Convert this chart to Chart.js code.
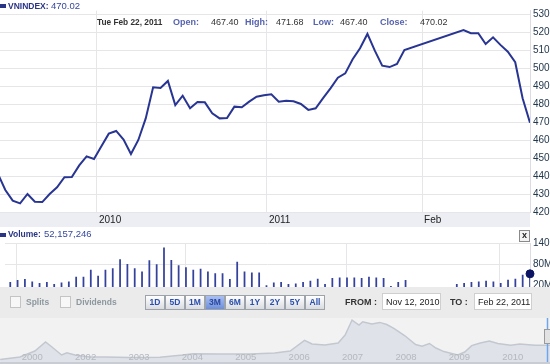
<!DOCTYPE html>
<html>
<head>
<meta charset="utf-8">
<script src="https://cdn.jsdelivr.net/npm/chart.js@4.4.0/dist/chart.umd.min.js"></script>
<style>
body{margin:0;width:550px;height:364px;overflow:hidden;background:#fff;position:relative;font-family:"Liberation Sans",Arial,sans-serif}
.a{position:absolute;white-space:nowrap}
.b{font-weight:bold}
.ico{position:absolute;width:6px;height:4px;background:#2a3585}
.lbl{color:#2a3585;font-size:8.5px}
.num{color:#3548a0;font-size:9.5px}
.hd{font-size:9px;color:#333}
.hk{color:#5663ae;font-weight:bold}
#ctrl{position:absolute;left:0;top:287px;width:550px;height:31px;background:#ebebeb}
.cb{position:absolute;width:9px;height:10px;background:#f7f7f7;border:1px solid #c4c4c4;top:9px}
.ct{position:absolute;top:10px;font-size:8.5px;font-weight:bold;color:#8c989f}
.btn{position:absolute;top:8px;width:18px;height:13px;border:1px solid #9da3ab;background:linear-gradient(#ffffff,#d9dbdf);font-size:8.5px;font-weight:bold;color:#2b4fae;text-align:center;line-height:13px}
.sel{background:linear-gradient(#a9bff0,#6e8fd9);color:#2a46a0}
.inp{position:absolute;top:6px;height:17px;background:#fff;border:1px solid #cfcfcf;font-size:9px;color:#222;line-height:17px;padding-left:3px;box-sizing:border-box}
</style>
</head>
<body>
<canvas id="price" class="a" style="left:0;top:0" width="550" height="227"></canvas>
<canvas id="vol" class="a" style="left:0;top:227px" width="550" height="72"></canvas>

<div class="ico" style="left:0;top:4px"></div>
<div class="a lbl b" style="left:8px;top:1px">VNINDEX:</div>
<div class="a num" style="left:51px;top:0px">470.02</div>

<div class="a hd b" style="left:97px;top:17px;font-size:8.3px">Tue Feb 22, 2011</div>
<div class="a hd hk" style="left:173px;top:17px">Open:</div>
<div class="a hd" style="left:211px;top:17px">467.40</div>
<div class="a hd hk" style="left:245px;top:17px">High:</div>
<div class="a hd" style="left:276px;top:17px">471.68</div>
<div class="a hd hk" style="left:313px;top:17px">Low:</div>
<div class="a hd" style="left:340px;top:17px">467.40</div>
<div class="a hd hk" style="left:380px;top:17px">Close:</div>
<div class="a hd" style="left:420px;top:17px">470.02</div>

<div class="ico" style="left:0;top:233px"></div>
<div class="a lbl b" style="left:8px;top:229px">Volume:</div>
<div class="a num" style="left:44px;top:228px">52,157,246</div>
<div class="a" style="left:519px;top:230px;width:9px;height:10px;border:1px solid #8a8a8a;background:#f3f3f3;font-size:9px;font-weight:bold;line-height:9px;text-align:center;color:#222">x</div>

<div id="ctrl">
  <div class="cb" style="left:10px"></div><div class="ct" style="left:26px">Splits</div>
  <div class="cb" style="left:60px"></div><div class="ct" style="left:76px">Dividends</div>
  <div class="btn" style="left:145px">1D</div>
  <div class="btn" style="left:165px">5D</div>
  <div class="btn" style="left:185px">1M</div>
  <div class="btn sel" style="left:205px">3M</div>
  <div class="btn" style="left:225px">6M</div>
  <div class="btn" style="left:245px">1Y</div>
  <div class="btn" style="left:265px">2Y</div>
  <div class="btn" style="left:285px">5Y</div>
  <div class="btn" style="left:305px">All</div>
  <div class="a b" style="left:345px;top:10px;font-size:9px;color:#333">FROM :</div>
  <div class="inp" style="left:382px;width:59px">Nov 12, 2010</div>
  <div class="a b" style="left:450px;top:10px;font-size:9px;color:#333">TO :</div>
  <div class="inp" style="left:474px;width:58px">Feb 22, 2011</div>
</div>
<canvas id="nav" class="a" style="left:0;top:318px;background:#f2f2f3" width="550" height="44"></canvas>
<div class="a" style="left:0;top:362px;width:550px;height:2px;background:#c9cdd3"></div>

<script>
// trading days shown (Tet holiday days kept with no price)
const dates = [
  '2010-11-12','2010-11-15','2010-11-16','2010-11-17','2010-11-18','2010-11-19','2010-11-22','2010-11-23','2010-11-24','2010-11-25','2010-11-26','2010-11-29','2010-11-30',
  '2010-12-01','2010-12-02','2010-12-03','2010-12-06','2010-12-07','2010-12-08','2010-12-09','2010-12-10','2010-12-13','2010-12-14','2010-12-15','2010-12-16','2010-12-17',
  '2010-12-20','2010-12-21','2010-12-22','2010-12-23','2010-12-24','2010-12-27','2010-12-28','2010-12-29','2010-12-30','2010-12-31',
  '2011-01-03','2011-01-04','2011-01-05','2011-01-06','2011-01-07','2011-01-10','2011-01-11','2011-01-12','2011-01-13','2011-01-14','2011-01-17','2011-01-18','2011-01-19',
  '2011-01-20','2011-01-21','2011-01-24','2011-01-25','2011-01-26','2011-01-27','2011-01-28','2011-01-31',
  '2011-02-01','2011-02-02','2011-02-03','2011-02-04','2011-02-07','2011-02-08','2011-02-09','2011-02-10','2011-02-11','2011-02-14','2011-02-15','2011-02-16','2011-02-17',
  '2011-02-18','2011-02-21','2011-02-22'
];
const close = [441.5,432.6,426.7,425.2,430.4,426.1,425.9,430.4,434.1,439.7,439.8,446.3,451.3,
  449.8,456.9,463.9,465.4,460.6,452.6,460.4,472.4,489.7,489.3,493.2,479.8,485.0,478.0,481.5,481.3,475.2,472.4,472.6,478.9,478.6,481.7,484.4,
  485.2,485.8,481.7,482.2,481.9,480.4,477.1,478.0,483.6,489.1,495.0,497.4,505.2,511.3,519.3,510.0,501.7,500.9,502.6,510.4,null,
  null,null,null,null,null,null,521.5,519.7,519.7,513.7,517.4,513.2,509.4,503.6,483.6,470.02];
// volume in millions
const volume = [30,27.5,33.2,36.0,29.2,24.6,27.5,21.7,26.3,29.2,42.6,42.6,62.7,
  45.5,62.7,67.6,93.3,79.9,67.6,57.8,90.5,79.0,127.7,91.3,76.2,70.4,62.7,65.6,57.8,53.2,53.2,36.0,86.5,57.8,55.0,55.0,
  18.0,26.3,27.5,21.7,23.5,27.5,31.2,36.9,21.7,38.9,40.6,40.6,40.6,38.9,42.6,40.6,38.9,16.0,27.5,33.2,null,
  null,null,null,null,null,21.7,24.6,27.5,29.2,31.2,29.2,24.6,34.0,36.9,48.4,52.157246];
const monthLabels = ['2010','2011','Feb'];
const priceTicks = [420,430,440,450,460,470,480,490,500,510,520,530];
const volTicks = [20,80,140];

// long-range navigator
const navYears = [2001,2002,2003,2004,2005,2006,2007,2008,2009,2010];
const navYearLabels = ['2000','2002','2003','2004','2005','2006','2007','2008','2009','2010'];
const navT = [2000.40,2000.77,2001.05,2001.25,2001.37,2001.55,2001.65,2001.80,2002.08,2002.37,2002.83,2003.39,2003.82,2004.01,2004.52,2005.08,
  2005.54,2005.83,2006.10,2006.24,2006.48,2006.73,2006.86,2006.99,2007.12,2007.19,2007.36,2007.51,2007.64,2007.78,2007.98,2008.18,2008.30,
  2008.44,2008.56,2008.71,2008.97,2009.10,2009.23,2009.39,2009.56,2009.72,2009.96,2010.13,2010.42,2010.70];
const navV = [213,272,417,636,515,320,376,320,272,274,259,264,320,352,344,344,
  369,417,675,587,563,612,806,1170,1049,1129,1073,1112,1061,959,787,573,532,
  600,490,403,320,393,549,612,660,600,556,587,556,556];

// gridline positions: first trading day of each new month
const monthIdx = [];
for (let i = 1; i < dates.length; i++) {
  if (dates[i].slice(0,7) !== dates[i-1].slice(0,7)) monthIdx.push(i + 0.4);
}
const xMin = 0.28, xMax = dates.length - 1;
const axisFont = {family:'Liberation Sans', size:10};

const bandPlugin = {
  id: 'band',
  beforeDraw(chart) {
    const {ctx, chartArea} = chart;
    ctx.save();
    ctx.fillStyle = '#eceef3';
    ctx.fillRect(0, chartArea.bottom, chartArea.right, chart.height - chartArea.bottom);
    ctx.restore();
  }
};

new Chart(document.getElementById('price'), {
  type: 'line',
  data: {
    datasets: [{
      data: close.map((v, i) => ({x: i, y: v})),
      borderColor: '#283593',
      borderWidth: 2,
      pointRadius: 0,
      spanGaps: true,
      tension: 0
    }]
  },
  options: {
    responsive: false, animation: false,
    layout: {padding: {top: 10.7}},
    plugins: {legend: {display: false}, tooltip: {enabled: false}},
    scales: {
      x: {
        type: 'linear', min: xMin, max: xMax,
        afterBuildTicks: s => { s.ticks = monthIdx.map(v => ({value: v})); },
        afterFit: s => { s.height = 14.3; },
        ticks: {align: 'start', labelOffset: 2, padding: 2, maxRotation: 0, autoSkip: false,
          color: '#222', font: axisFont, callback: (v, i) => monthLabels[i]},
        grid: {color: '#e6e6e8', drawTicks: false},
        border: {display: false}
      },
      y: {
        position: 'right', min: 420, max: 532.2,
        afterBuildTicks: s => { s.ticks = priceTicks.map(v => ({value: v})); },
        afterFit: s => { s.width = 20; },
        ticks: {padding: 3, color: '#23384d', font: axisFont},
        grid: {color: '#e6e6e8', drawTicks: false},
        border: {color: '#dcdde0'}
      }
    }
  },
  plugins: [bandPlugin]
});

const last = volume.length - 1;
new Chart(document.getElementById('vol'), {
  type: 'bar',
  data: {
    datasets: [{
      type: 'line',
      data: [{x: last, y: volume[last]}],
      showLine: false,
      pointRadius: 4,
      pointBackgroundColor: '#0b1463',
      pointBorderColor: '#0b1463',
      clip: false
    }, {
      data: volume.map((v, i) => ({x: i, y: v})),
      backgroundColor: '#34429c',
      barThickness: 1.1
    }]
  },
  options: {
    responsive: false, animation: false,
    layout: {padding: {top: 16.5}},
    plugins: {legend: {display: false}, tooltip: {enabled: false}},
    scales: {
      x: {
        type: 'linear', min: xMin, max: xMax, offset: false,
        afterBuildTicks: s => { s.ticks = monthIdx.map(v => ({value: v})); },
        afterFit: s => { s.height = 12; },
        ticks: {display: false},
        grid: {color: '#e6e6e8', drawTicks: false},
        border: {display: false}
      },
      y: {
        position: 'right', min: 14, max: 140,
        afterBuildTicks: s => { s.ticks = volTicks.map(v => ({value: v})); },
        afterFit: s => { s.width = 20; },
        ticks: {padding: 3, color: '#23384d', font: axisFont, callback: v => v + 'M'},
        grid: {color: c => c.tick && c.tick.value === 20 ? 'rgba(0,0,0,0)' : '#e6e6e8', drawTicks: false},
        border: {color: '#dcdde0'}
      }
    }
  }
});

const navPlugin = {
  id: 'navLabels',
  afterDraw(chart) {
    const {ctx} = chart;
    const x = chart.scales.x;
    ctx.save();
    ctx.font = '9.5px "Liberation Sans"';
    ctx.fillStyle = '#b4b8bf';
    ctx.textAlign = 'center';
    ctx.textBaseline = 'middle';
    navYears.forEach((y, i) => ctx.fillText(navYearLabels[i], x.getPixelForValue(y), 39.5));
    ctx.strokeStyle = '#6ea6ee';
    ctx.lineWidth = 1.5;
    ctx.beginPath(); ctx.moveTo(547.5, 0); ctx.lineTo(547.5, chart.height); ctx.stroke();
    ctx.fillStyle = '#e2e2e2';
    ctx.strokeStyle = '#9a9a9a';
    ctx.lineWidth = 1;
    ctx.fillRect(544.5, 11.5, 6, 14); ctx.strokeRect(544.5, 11.5, 6, 14);
    ctx.restore();
  }
};

new Chart(document.getElementById('nav'), {
  type: 'line',
  data: {
    datasets: [{
      data: navT.map((t, i) => ({x: t, y: navV[i]})),
      borderColor: '#c3c8d0',
      backgroundColor: '#dfe2e8',
      borderWidth: 1.5,
      fill: 'start',
      pointRadius: 0,
      tension: 0
    }]
  },
  options: {
    responsive: false, animation: false,
    layout: {padding: 0},
    plugins: {legend: {display: false}, tooltip: {enabled: false}},
    scales: {
      x: {type: 'linear', display: false, min: 2000.397, max: 2010.697},
      y: {display: false, min: 150, max: 1219}
    }
  },
  plugins: [navPlugin]
});
</script>
</body>
</html>
